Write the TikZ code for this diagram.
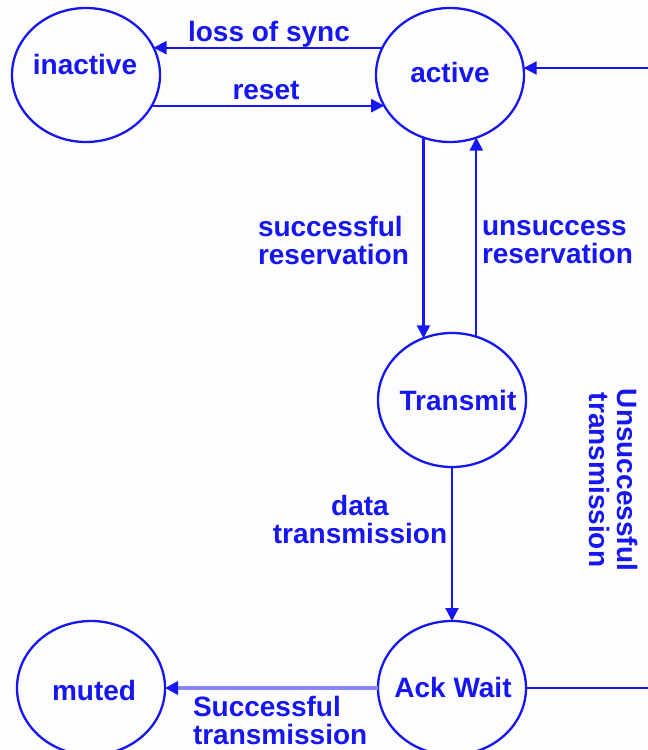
\documentclass[tikz,border=0pt]{standalone}
\usepackage{fontspec}
\setmainfont{Liberation Sans}
\usetikzlibrary{arrows.meta,shapes.geometric}
\definecolor{ink}{RGB}{22,22,240}
\definecolor{paleink}{RGB}{135,135,255}
\definecolor{paper}{RGB}{253,253,255}
\begin{document}
\begin{tikzpicture}[x=1pt,y=-1pt,
  state/.style={ellipse, draw=ink, line width=2.3pt, minimum width=148pt,
    minimum height=134pt, inner sep=0pt, outer sep=0pt},
  txt/.style={text=ink, font=\fontsize{28}{28}\selectfont\bfseries,
    inner sep=0pt, outer sep=0pt},
  tip/.style={-{Triangle[length=13pt,width=13pt,color=ink]}},
  flow/.style={draw=ink, line width=2.2pt, tip},
  plain/.style={draw=ink, line width=2.2pt},
  strong/.style={draw=paleink, line width=4.5pt, tip},
  ]
\fill[paper] (0,0) rectangle (648,750);
\useasboundingbox (0,0) rectangle (648,750);

% states
\node[state] (inactive) at (86,75) {};
\node[state] (active)   at (450,75) {};
\node[state] (transmit) at (452,400) {};
\node[state] (ackwait)  at (452,688) {};
\node[state] (muted)    at (91,688) {};

\node[txt, anchor=base] (inactive-t) at (85,74)  {inactive};
\node[txt, anchor=base] (active-t)   at (450,82) {active};
\node[txt, anchor=base] (transmit-t) at (458,410) {Transmit};
\node[txt, anchor=base] (ackwait-t)  at (453,697) {Ack Wait};
\node[txt, anchor=base] (muted-t)    at (94,700) {muted};

% loose ends on the right border
\coordinate (rin)  at (648,68);
\coordinate (rout) at (648,688);

% transitions
\draw[flow] (active.158) -- (active.158 -| inactive.22);
\draw[flow] (inactive.-25) -- (inactive.-25 -| active.205);
\draw[flow] (rin) -- (active.5 |- rin);
\draw[flow] (active.247) -- (active.247 |- transmit.115);
\draw[flow] (transmit.69) -- (transmit.69 |- active.293);
\draw[flow] (transmit.south) -- (ackwait.north);
\draw[plain] (ackwait.east) -- (rout);
\draw[strong] (ackwait.west) -- (muted.east);

% transition labels (multi-line ones are placed by their last baseline)
\node[txt, anchor=base] (l-sync)  at (269,41) {loss of sync};
\node[txt, anchor=base] (l-reset) at (266,99) {reset};
\node[txt, anchor=base west, align=left] (l-succres) at (258,264)
  {successful\\reservation};
\node[txt, anchor=base west, align=left] (l-unsres) at (482,263)
  {unsuccess\\reservation};
\node[txt, anchor=base, align=center] (l-data) at (360,543)
  {data\\transmission};
\node[txt, anchor=base west, align=left] (l-succtx) at (193,744)
  {Successful\\transmission};
\node[txt, anchor=center, align=center, rotate=-90] (l-unstx) at (614,480)
  {Unsuccessful\\transmission};
\end{tikzpicture}
\end{document}
